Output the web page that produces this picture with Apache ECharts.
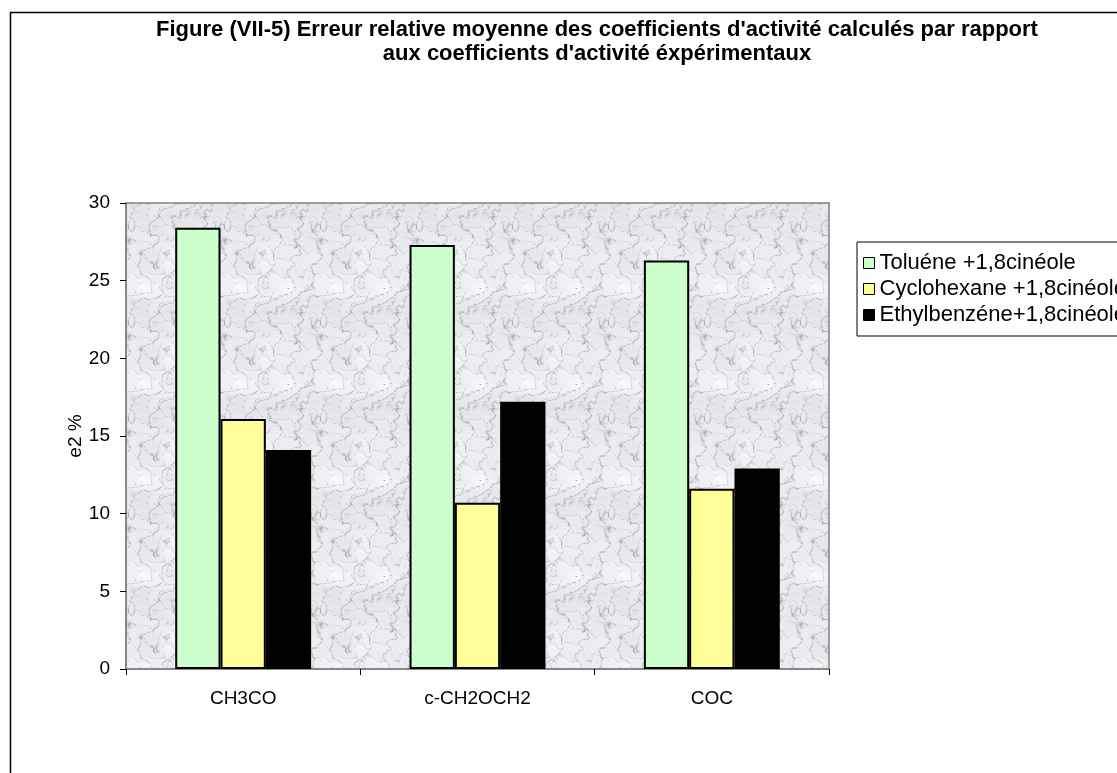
<!DOCTYPE html>
<html>
<head>
<meta charset="utf-8">
<script src="https://cdn.jsdelivr.net/npm/echarts@6/dist/echarts.min.js"></script>
<style>
  html, body { margin: 0; padding: 0; background: #fff; }
  #chart { width: 1117px; height: 773px; }
</style>
</head>
<body>
<div id="chart"></div>
<script>
// Groupes fonctionnels et erreurs relatives moyennes e2 (%)
const categories = ['CH3CO', 'c-CH2OCH2', 'COC'];
const seriesNames = ['Toluéne +1,8cinéole', 'Cyclohexane +1,8cinéole', 'Ethylbenzéne+1,8cinéole'];
const toluene = [28.4, 27.3, 26.3];
const cyclohexane = [16.1, 10.7, 11.6];
const ethylbenzene = [14.1, 17.2, 12.9];
const yTicks = [0, 5, 10, 15, 20, 25, 30];

const seriesValues = [toluene, cyclohexane, ethylbenzene];
const seriesColors = ['#CCFFCC', '#FFFF99', '#000000'];
const FONT = 'Arial, "Liberation Sans", sans-serif';

// Tileable grey marble texture for the plot area
function marbleTile(size) {
  const c = document.createElement('canvas');
  c.width = size; c.height = size;
  const ctx = c.getContext('2d');
  const img = ctx.createImageData(size, size);
  function hash(i, j) {
    let h = (Math.imul(i, 374761393) + Math.imul(j, 668265263)) | 0;
    h = Math.imul(h ^ (h >>> 13), 1274126177);
    return ((h ^ (h >>> 16)) >>> 0) / 4294967295;
  }
  function noise(x, y, period) {
    const xi = Math.floor(x), yi = Math.floor(y);
    const xf = x - xi, yf = y - yi;
    const u = xf * xf * (3 - 2 * xf), v = yf * yf * (3 - 2 * yf);
    const m = (a) => ((a % period) + period) % period;
    const a = hash(m(xi), m(yi)), b = hash(m(xi + 1), m(yi));
    const cc = hash(m(xi), m(yi + 1)), d = hash(m(xi + 1), m(yi + 1));
    return a + (b - a) * u + (cc - a) * v + (a - b - cc + d) * u * v;
  }
  function turb(x, y) {
    let t = 0, amp = 1, freq = 4;
    for (let o = 0; o < 5; o++) {
      t += amp * noise(x * freq / size, y * freq / size, freq);
      amp *= 0.5; freq *= 2;
    }
    return t;
  }
  for (let y = 0; y < size; y++) {
    for (let x = 0; x < size; x++) {
      const t = turb(x, y);
      const s1 = Math.abs(Math.sin(2 * Math.PI * (2 * x + y) / size + t * 5));
      const s2 = Math.abs(Math.sin(2 * Math.PI * (x - 2 * y) / size + t * 7));
      const vein = Math.pow(1 - s1, 10) * 60 + Math.pow(1 - s2, 14) * 45;
      const base = 236 - (t - 1) * 16;
      const g = Math.max(155, Math.min(249, base - vein));
      const k = (y * size + x) * 4;
      img.data[k] = g - 2;
      img.data[k + 1] = g - 1;
      img.data[k + 2] = g + 3;
      img.data[k + 3] = 255;
    }
  }
  ctx.putImageData(img, 0, 0);
  return c;
}

const chart = echarts.init(document.getElementById('chart'), null, { renderer: 'canvas' });

const option = {
  backgroundColor: '#ffffff',
  animation: false,
  title: {
    text: 'Figure (VII-5) Erreur relative moyenne des coefficients d\'activité calculés par rapport\naux coefficients d\'activité éxpérimentaux',
    left: 592,
    top: 13,
    padding: 5,
    textAlign: 'center',
    textStyle: {
      fontFamily: FONT,
      fontSize: 22,
      fontWeight: 'bold',
      color: '#000',
      lineHeight: 24,
      align: 'center'
    }
  },
  graphic: [{
    type: 'rect',
    left: 8,
    top: 10,
    shape: { width: 1300, height: 900 },
    style: { fill: 'none', stroke: '#000', lineWidth: 1.5 },
    z: 0
  }],
  legend: {
    orient: 'vertical',
    left: 857,
    top: 242,
    itemWidth: 11,
    itemHeight: 11,
    itemGap: 4,
    padding: [10, 8, 10, 6],
    borderColor: '#000',
    borderWidth: 1,
    backgroundColor: '#fff',
    icon: 'rect',
    data: seriesNames,
    textStyle: { fontFamily: FONT, fontSize: 22, color: '#000', padding: [0, 0, 0, 0] },
    itemStyle: { borderColor: '#000', borderWidth: 1 }
  },
  grid: {
    left: 126,
    top: 203,
    right: 288,
    bottom: 104,
    show: true,
    backgroundColor: { image: marbleTile(96), repeat: 'repeat' },
    borderColor: '#808080',
    borderWidth: 1.5
  },
  xAxis: {
    type: 'category',
    data: categories,
    axisLine: { lineStyle: { color: '#808080', width: 1.5 } },
    axisTick: { show: true, length: 6, alignWithLabel: false, lineStyle: { color: '#000' } },
    axisLabel: { fontFamily: FONT, fontSize: 19, color: '#000', margin: 20 },
    splitLine: { show: false }
  },
  yAxis: {
    type: 'value',
    min: yTicks[0],
    max: yTicks[yTicks.length - 1],
    interval: yTicks[1] - yTicks[0],
    name: 'e2 %',
    nameLocation: 'middle',
    nameGap: 41,
    nameMoveOverlap: false,
    nameRotate: 90,
    nameTextStyle: { fontFamily: FONT, fontSize: 19, color: '#000' },
    axisLine: { show: true, lineStyle: { color: '#808080', width: 1.5 } },
    axisTick: { show: true, length: 6, lineStyle: { color: '#000' } },
    axisLabel: { fontFamily: FONT, fontSize: 19, color: '#000', margin: 16 },
    splitLine: { show: false }
  },
  series: seriesNames.map((name, i) => ({
    name,
    type: 'bar',
    data: seriesValues[i],
    barGap: '0%',
    barCategoryGap: '42%',
    itemStyle: { color: seriesColors[i], borderColor: '#000', borderWidth: 2 }
  }))
};

chart.setOption(option);
</script>
</body>
</html>
